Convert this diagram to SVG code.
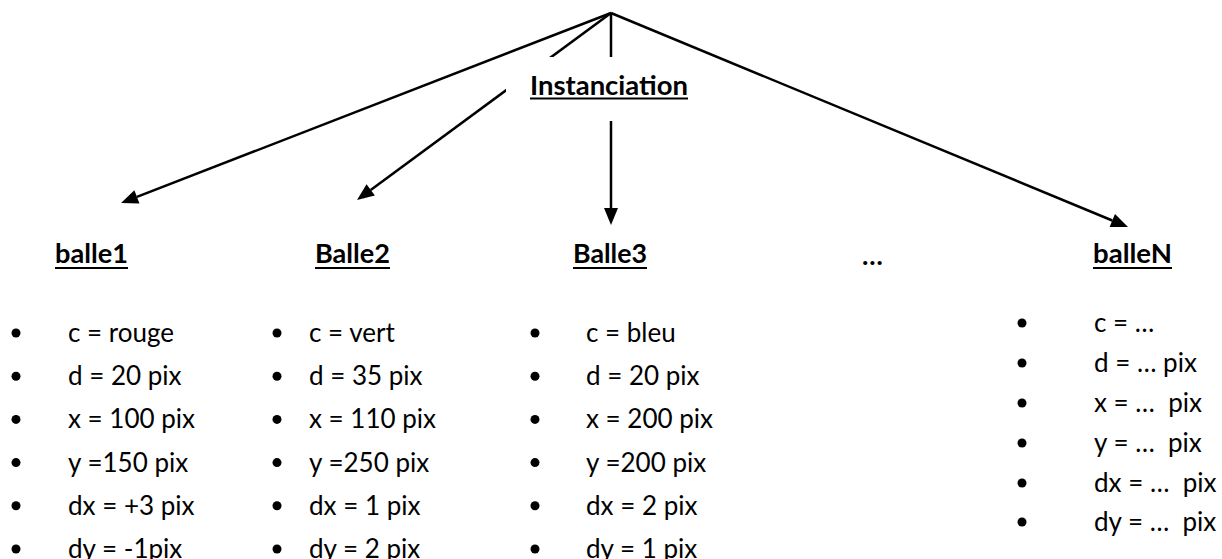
<svg xmlns="http://www.w3.org/2000/svg" width="1222" height="559" viewBox="0 0 1222 559">
<style>
  .hdr { font-family: Lato, "Liberation Sans", sans-serif; font-weight: 700; font-size: 27px; fill: #000; }
  .item { font-family: Lato, "Liberation Sans", sans-serif; font-size: 26px; fill: #000; white-space: pre; }
  .conn { stroke: #000; stroke-width: 2.5; fill: none; }
  .ul { stroke: #000; stroke-width: 2; }
  .dot { fill: #000; }
</style>
<defs>
  <marker id="arr" markerUnits="userSpaceOnUse" viewBox="0 -8 18 16" markerWidth="18" markerHeight="16" refX="0" refY="0" orient="auto" overflow="visible">
    <path d="M0,-7 L17,0 L0,7 z" fill="#000"/>
  </marker>
</defs>
<rect width="1222" height="559" fill="#fff"/>
<g id="connectors">
  <line class="conn" x1="611" y1="13" x2="136.9" y2="196.9" marker-end="url(#arr)"/>
  <line class="conn" x1="611" y1="13" x2="370.7" y2="189.9" marker-end="url(#arr)"/>
  <line class="conn" x1="611" y1="13" x2="611" y2="208" marker-end="url(#arr)"/>
  <line class="conn" x1="611" y1="13" x2="1112.3" y2="220.5" marker-end="url(#arr)"/>
</g>
<g id="instanciation">
  <rect x="506" y="57" width="208" height="64" fill="#fff"/>
  <text class="hdr" x="530" y="95" textLength="158" lengthAdjust="spacingAndGlyphs">Instanciation</text>
  <line class="ul" x1="530" y1="98.5" x2="688" y2="98.5"/>
</g>
<g id="balle1">
  <text class="hdr" x="55" y="263" textLength="73" lengthAdjust="spacingAndGlyphs">balle1</text>
  <line class="ul" x1="55" y1="268" x2="128" y2="268"/>
  <circle class="dot" cx="16" cy="333" r="4.5"/>
  <circle class="dot" cx="16" cy="376.2" r="4.5"/>
  <circle class="dot" cx="16" cy="419.4" r="4.5"/>
  <circle class="dot" cx="16" cy="462.6" r="4.5"/>
  <circle class="dot" cx="16" cy="505.8" r="4.5"/>
  <circle class="dot" cx="16" cy="549" r="4.5"/>
  <text class="item" x="68" y="342">c = rouge</text>
  <text class="item" x="68" y="385.2">d = 20 pix</text>
  <text class="item" x="68" y="428.4">x = 100 pix</text>
  <text class="item" x="68" y="471.6">y =150 pix</text>
  <text class="item" x="68" y="514.8">dx = +3 pix</text>
  <text class="item" x="68" y="558">dy = -1pix</text>
</g>
<g id="balle2">
  <text class="hdr" x="315" y="263" textLength="75" lengthAdjust="spacingAndGlyphs">Balle2</text>
  <line class="ul" x1="315" y1="268" x2="390" y2="268"/>
  <circle class="dot" cx="277" cy="333" r="4.5"/>
  <circle class="dot" cx="277" cy="376.2" r="4.5"/>
  <circle class="dot" cx="277" cy="419.4" r="4.5"/>
  <circle class="dot" cx="277" cy="462.6" r="4.5"/>
  <circle class="dot" cx="277" cy="505.8" r="4.5"/>
  <circle class="dot" cx="277" cy="549" r="4.5"/>
  <text class="item" x="309" y="342">c = vert</text>
  <text class="item" x="309" y="385.2">d = 35 pix</text>
  <text class="item" x="309" y="428.4">x = 110 pix</text>
  <text class="item" x="309" y="471.6">y =250 pix</text>
  <text class="item" x="309" y="514.8">dx = 1 pix</text>
  <text class="item" x="309" y="558">dy = 2 pix</text>
</g>
<g id="balle3">
  <text class="hdr" x="573" y="263" textLength="74" lengthAdjust="spacingAndGlyphs">Balle3</text>
  <line class="ul" x1="573" y1="268" x2="647" y2="268"/>
  <circle class="dot" cx="535" cy="333" r="4.5"/>
  <circle class="dot" cx="535" cy="376.2" r="4.5"/>
  <circle class="dot" cx="535" cy="419.4" r="4.5"/>
  <circle class="dot" cx="535" cy="462.6" r="4.5"/>
  <circle class="dot" cx="535" cy="505.8" r="4.5"/>
  <circle class="dot" cx="535" cy="549" r="4.5"/>
  <text class="item" x="586" y="342">c = bleu</text>
  <text class="item" x="586" y="385.2">d = 20 pix</text>
  <text class="item" x="586" y="428.4">x = 200 pix</text>
  <text class="item" x="586" y="471.6">y =200 pix</text>
  <text class="item" x="586" y="514.8">dx = 2 pix</text>
  <text class="item" x="586" y="558">dy = 1 pix</text>
</g>
<g id="ellipsis">
  <text class="hdr" x="862" y="265">…</text>
</g>
<g id="balleN">
  <text class="hdr" x="1093" y="263" textLength="79" lengthAdjust="spacingAndGlyphs">balleN</text>
  <line class="ul" x1="1093" y1="268" x2="1172" y2="268"/>
  <circle class="dot" cx="1022" cy="323" r="4.5"/>
  <circle class="dot" cx="1022" cy="363" r="4.5"/>
  <circle class="dot" cx="1022" cy="403" r="4.5"/>
  <circle class="dot" cx="1022" cy="443" r="4.5"/>
  <circle class="dot" cx="1022" cy="483" r="4.5"/>
  <circle class="dot" cx="1022" cy="522" r="4.5"/>
  <text class="item" x="1094" y="332">c = …</text>
  <text class="item" x="1094" y="372">d = … pix</text>
  <text class="item" x="1094" y="412">x = …  pix</text>
  <text class="item" x="1094" y="452">y = …  pix</text>
  <text class="item" x="1094" y="492">dx = …  pix</text>
  <text class="item" x="1094" y="531">dy = …  pix</text>
</g>
</svg>
